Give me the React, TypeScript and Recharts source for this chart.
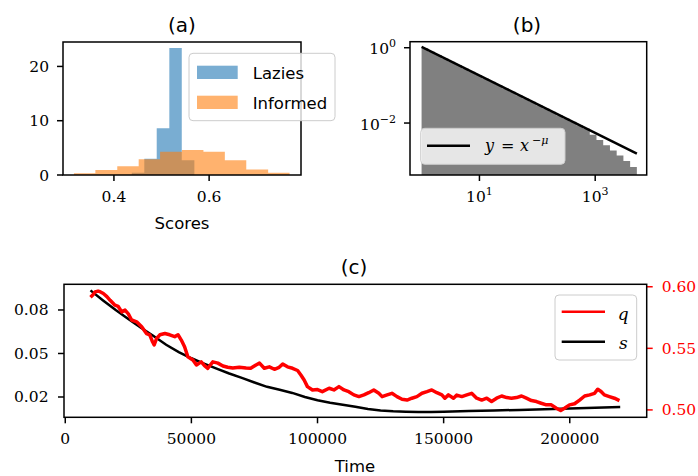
import React from 'react';
import { ComposedChart, Area, Line, XAxis, YAxis } from 'recharts';

const SERIF = '"DejaVu Serif", serif';
const SANS = '"DejaVu Sans", sans-serif';

// ---------- (a) score histograms (density) ----------
const informedEdges = [0.316, 0.361, 0.407, 0.452, 0.497, 0.543, 0.588, 0.633, 0.678, 0.724, 0.769];
const informedDensity = [0.3, 0.9, 1.6, 2.9, 4.3, 4.6, 4.3, 2.7, 1.0, 0.4];
const laziesEdges = [0.4375, 0.4638, 0.4899, 0.5164, 0.5425, 0.569];
const laziesDensity = [0.4, 3.0, 8.6, 23.4, 2.7];
const scoreTicks = [0.4, 0.6];
const densityTicks = [0, 10, 20];

// ---------- (b) log-binned distribution ----------
const degreeEdges = [1, 1.307, 1.708, 2.232, 2.917, 3.813, 4.983, 6.512, 8.511, 11.12, 14.54, 19.0, 24.83, 32.45,
  42.41, 55.43, 72.44, 94.68, 123.7, 161.7, 211.3, 276.2, 361.0, 471.8, 616.6, 805.9, 1053, 1376, 1799, 2351,
  3073, 4016, 5248];
const degreeFreq = [0.961, 0.783, 0.638, 0.521, 0.425, 0.346, 0.282, 0.23, 0.1875, 0.153, 0.1247, 0.1016, 0.0828,
  0.0675, 0.0551, 0.0449, 0.0366, 0.0298, 0.0243, 0.0198, 0.0162, 0.0132, 0.01074, 0.00877, 0.00714, 0.0049,
  0.00355, 0.00257, 0.00186, 0.00138, 0.00098, 0.00068];
const powerLawX = [1, 5248];
const powerLawY = [1.06, 0.00155];
const logXTicks = [10, 1000];
const logYTicks = [1, 0.01];

// ---------- (c) time series ----------
const sTime = [10000, 15000, 20000, 25000, 30000, 35000, 40000, 45000, 50000, 55000, 60000, 65000, 70000, 75000,
  80000, 85000, 90000, 95000, 100000, 105000, 110000, 115000, 120000, 125000, 130000, 135000, 140000, 145000,
  150000, 160000, 170000, 180000, 190000, 200000, 210000, 220000];
const sValue = [0.0935, 0.0866, 0.08, 0.0738, 0.0678, 0.062, 0.056, 0.051, 0.0467, 0.043, 0.0395, 0.0362, 0.0332,
  0.03, 0.027, 0.025, 0.0228, 0.02, 0.0177, 0.016, 0.0146, 0.0132, 0.0118, 0.0107, 0.0101, 0.0098, 0.0096, 0.0096,
  0.0098, 0.0103, 0.0107, 0.0111, 0.0116, 0.0121, 0.0126, 0.0131];
const qTime = [10000, 11000, 11800, 13000, 13800, 15100, 16500, 17800, 19700, 21000, 22400, 23700, 25000, 26300,
  28300, 30300, 32200, 33500, 34600, 35250, 36200, 37500, 39500, 41400, 43400, 44700, 46000, 47300, 48600, 50600,
  52000, 53900, 55200, 56500, 58500, 60500, 62500, 64400, 66400, 69000, 71700, 73500, 75600, 77000, 78900, 80900,
  82900, 84800, 86200, 88100, 90100, 92100, 93400, 94700, 96000, 98000, 100000, 101900, 104600, 106500, 108500,
  110500, 112400, 114400, 116400, 118400, 120300, 122300, 124300, 125600, 127600, 129500, 131500, 133500, 135500,
  137400, 139400, 141400, 143400, 145300, 147300, 149300, 150500, 151900, 153900, 155200, 157200, 159200, 161100,
  163100, 165100, 167100, 169000, 171000, 173000, 175000, 176900, 178900, 180900, 182800, 184800, 186800, 188700,
  190700, 192700, 194700, 196400, 197900, 199900, 201900, 203900, 205900, 207900, 209800, 211100, 212400, 213700,
  215700, 217700, 219700];
const qValue = [0.5915, 0.5935, 0.5958, 0.5965, 0.596, 0.5945, 0.592, 0.589, 0.585, 0.584, 0.5796, 0.581, 0.578,
  0.573, 0.5715, 0.5675, 0.562, 0.561, 0.5553, 0.5527, 0.558, 0.561, 0.562, 0.561, 0.5595, 0.561, 0.5567, 0.5513,
  0.5432, 0.5405, 0.5365, 0.539, 0.536, 0.5338, 0.539, 0.538, 0.5357, 0.5346, 0.534, 0.5346, 0.534, 0.5338, 0.5365,
  0.538, 0.5338, 0.535, 0.533, 0.5346, 0.5373, 0.535, 0.5338, 0.532, 0.5284, 0.5243, 0.5189, 0.5162, 0.5165,
  0.5148, 0.5176, 0.5162, 0.5189, 0.5162, 0.5148, 0.5122, 0.5108, 0.5122, 0.514, 0.5162, 0.5135, 0.5108, 0.5122,
  0.5135, 0.5108, 0.5087, 0.508, 0.5095, 0.5108, 0.5135, 0.5148, 0.5162, 0.514, 0.5122, 0.5095, 0.5122, 0.5095,
  0.512, 0.5108, 0.5122, 0.5135, 0.5095, 0.508, 0.5095, 0.5068, 0.5095, 0.5113, 0.51, 0.5095, 0.51, 0.5113, 0.5095,
  0.5076, 0.5068, 0.5054, 0.5041, 0.5041, 0.5014, 0.4995, 0.5014, 0.5041, 0.505, 0.508, 0.5113, 0.5122, 0.5135,
  0.5168, 0.515, 0.5122, 0.5108, 0.5095, 0.5076];
const timeTicks = [0, 50000, 100000, 150000, 200000];
const sTicks = [0.02, 0.05, 0.08];
const qTicks = [0.5, 0.55, 0.6];

// ---------- tables built from the arrays ----------
function stepRows(edges: number[], vals: number[], key: string) {
  return edges.map((x, i) => ({ x, [key]: vals[Math.min(i, vals.length - 1)] }));
}
function pointRows(xs: number[], ys: number[], key: string) {
  return xs.map((x, i) => ({ x, [key]: ys[i] }));
}
const byX = (a: any, b: any) => a.x - b.x;
const dataA = [...stepRows(laziesEdges, laziesDensity, 'lazies'), ...stepRows(informedEdges, informedDensity, 'informed')].sort(byX);
const dataB = [...stepRows(degreeEdges, degreeFreq, 'freq'), ...pointRows(powerLawX, powerLawY, 'fit')].sort(byX);
const dataC = [...pointRows(sTime, sValue, 's'), ...pointRows(qTime, qValue, 'q')].sort(byX);

const tickStyle = { fill: '#000', fontSize: 15.5, fontFamily: SERIF };
const tickLine = { stroke: '#000', strokeWidth: 1.5 };
const redTickLine = { stroke: '#ff0000', strokeWidth: 1.5 };

const expLabel = (v: number) => {
  const e = Math.round(Math.log10(v));
  return e < 0 ? '\u2212' + Math.abs(e) : String(e);
};
const PowTickX = (props: any) => {
  const { x, y, payload } = props;
  return (
    <text x={x} y={y} dy="0.71em" textAnchor="middle" fontFamily={SERIF} fontSize={15.5} fill="#000">
      10<tspan dy={-7} fontSize={11}>{expLabel(payload.value)}</tspan>
    </text>
  );
};
const PowTickY = (props: any) => {
  const { x, y, payload } = props;
  return (
    <text x={x} y={y + 1} dy="0.36em" textAnchor="end" fontFamily={SERIF} fontSize={15.5} fill="#000">
      10<tspan dy={-7} fontSize={11}>{expLabel(payload.value)}</tspan>
    </text>
  );
};

const abs = (l: number, t: number): React.CSSProperties => ({ position: 'absolute', left: l, top: t });

export default function App() {
  return (
    <div style={{ position: 'absolute', left: 0, top: 0, width: 698, height: 476, background: '#fff', overflow: 'hidden' }}>
      <div style={abs(0, 0)}>
        <ComposedChart width={349} height={240} data={dataA} margin={{ top: 42, right: 48, bottom: 25, left: 13 }}>
          <XAxis dataKey="x" type="number" domain={[0.293, 0.793]} allowDataOverflow ticks={scoreTicks} interval={0}
            tickFormatter={(v: number) => v.toFixed(1)} axisLine={false} tickLine={tickLine} tickSize={6}
            tickMargin={10} tick={tickStyle} height={40} />
          <YAxis type="number" domain={[0, 24.5]} allowDataOverflow ticks={densityTicks} interval={0}
            axisLine={false} tickLine={tickLine} tickSize={6} tickMargin={8} tick={tickStyle} width={50} />
          <Area dataKey="lazies" type="stepAfter" fill="#1f77b4" fillOpacity={0.6} stroke="none" connectNulls
            isAnimationActive={false} dot={false} activeDot={false} />
          <Area dataKey="informed" type="stepAfter" fill="#ff7f0e" fillOpacity={0.6} stroke="none" connectNulls
            isAnimationActive={false} dot={false} activeDot={false} />
        </ComposedChart>
      </div>
      <div style={abs(350, 0)}>
        <ComposedChart width={348} height={240} data={dataB} margin={{ top: 41.7, right: 51.3, bottom: 25, left: 10 }}>
          <XAxis dataKey="x" type="number" scale="log" domain={[0.631, 7762]} allowDataOverflow ticks={logXTicks}
            interval={0} axisLine={false} tickLine={tickLine} tickSize={6} tickMargin={10} tick={<PowTickX />}
            height={40} />
          <YAxis type="number" scale="log" domain={[0.000417, 1.445]} allowDataOverflow ticks={logYTicks}
            interval={0} axisLine={false} tickLine={tickLine} tickSize={6} tickMargin={8} tick={<PowTickY />}
            width={50} />
          <Area dataKey="freq" type="stepAfter" fill="#808080" fillOpacity={1} stroke="none" connectNulls
            baseValue={0.000417} isAnimationActive={false} dot={false} activeDot={false} />
          <Line dataKey="fit" type="linear" stroke="#000" strokeWidth={2.5} connectNulls dot={false}
            activeDot={false} isAnimationActive={false} />
        </ComposedChart>
      </div>
      <div style={abs(0, 250)}>
        <ComposedChart width={698} height={226} data={dataC} margin={{ top: 34.3, right: 6.3, bottom: 18.7, left: 14 }}>
          <XAxis dataKey="x" type="number" domain={[-500, 230500]} allowDataOverflow ticks={timeTicks} interval={0}
            axisLine={false} tickLine={tickLine} tickSize={6} tickMargin={10} tick={tickStyle} height={40} />
          <YAxis yAxisId="s" type="number" domain={[0.006, 0.0977]} allowDataOverflow ticks={sTicks} interval={0}
            tickFormatter={(v: number) => v.toFixed(2)} axisLine={false} tickLine={tickLine} tickSize={6}
            tickMargin={9.5} tick={tickStyle} width={50} />
          <YAxis yAxisId="q" orientation="right" type="number" domain={[0.494, 0.602]} allowDataOverflow
            ticks={qTicks} interval={0} tickFormatter={(v: number) => v.toFixed(2)} axisLine={false}
            tickLine={redTickLine} tickSize={6} tickMargin={9} tick={{ ...tickStyle, fill: '#ff0000' }} width={45} />
          <Line yAxisId="s" dataKey="s" type="linear" stroke="#000" strokeWidth={2.5} connectNulls dot={false}
            activeDot={false} isAnimationActive={false} />
          <Line yAxisId="q" dataKey="q" type="linear" stroke="#ff0000" strokeWidth={3.5} strokeLinejoin="round"
            connectNulls dot={false} activeDot={false} isAnimationActive={false} />
        </ComposedChart>
      </div>
      <svg width={698} height={476} style={{ position: 'absolute', left: 0, top: 0, pointerEvents: 'none' }}>
        {/* frames */}
        <rect x={63} y={42} width={238} height={133} fill="none" stroke="#000" strokeWidth={1.5} />
        <rect x={410} y={41.7} width={236.7} height={133.3} fill="none" stroke="#000" strokeWidth={1.5} />
        <rect x={64} y={284.3} width={582.7} height={133} fill="none" stroke="#000" strokeWidth={1.5} />
        {/* titles and axis labels */}
        <text x={182} y={32.4} textAnchor="middle" fontFamily={SANS} fontSize={20} fill="#000">(a)</text>
        <text x={527} y={32.4} textAnchor="middle" fontFamily={SANS} fontSize={20} fill="#000">(b)</text>
        <text x={354} y={274} textAnchor="middle" fontFamily={SANS} fontSize={20} fill="#000">(c)</text>
        <text x={182} y={228.7} textAnchor="middle" fontFamily={SANS} fontSize={16.5} fill="#000">Scores</text>
        <text x={355} y={471.7} textAnchor="middle" fontFamily={SANS} fontSize={16.5} fill="#000">Time</text>
        {/* legend (a) */}
        <rect x={189} y={53.3} width={146} height={67.4} rx={4} fill="#fff" fillOpacity={0.8} stroke="#cccccc" strokeWidth={1} />
        <rect x={197} y={65.7} width={40.7} height={13.3} fill="#1f77b4" fillOpacity={0.6} />
        <rect x={197} y={95.7} width={40.7} height={13.3} fill="#ff7f0e" fillOpacity={0.6} />
        <text x={252.7} y={79.3} fontFamily={SANS} fontSize={16.5} fill="#000">Lazies</text>
        <text x={252.7} y={109} fontFamily={SANS} fontSize={16.5} fill="#000">Informed</text>
        {/* legend (b) */}
        <rect x={420.7} y={128.3} width={144.3} height={36} rx={4} fill="#fff" fillOpacity={0.8} stroke="#cccccc" strokeWidth={1} />
        <line x1={427} y1={145.7} x2={470} y2={145.7} stroke="#000" strokeWidth={2.5} />
        <text y={151} fontFamily={SERIF} fontSize={16} fill="#000">
          <tspan x={485} fontStyle="italic">y</tspan>
          <tspan x={501}>=</tspan>
          <tspan x={520} fontStyle="italic">x</tspan>
          <tspan x={532} dy={-7} fontSize={11} fontStyle="italic">{'\u2212\u03bc'}</tspan>
        </text>
        {/* legend (c) */}
        <rect x={555} y={295} width={81.7} height={65} rx={4} fill="#fff" fillOpacity={0.8} stroke="#cccccc" strokeWidth={1} />
        <line x1={561.7} y1={311.7} x2={605} y2={311.7} stroke="#ff0000" strokeWidth={2.5} />
        <line x1={561.7} y1={341.7} x2={605} y2={341.7} stroke="#000" strokeWidth={2.5} />
        <text x={623.3} y={319.5} textAnchor="middle" fontFamily={SERIF} fontStyle="italic" fontSize={17} fill="#000">q</text>
        <text x={623.3} y={349.3} textAnchor="middle" fontFamily={SERIF} fontStyle="italic" fontSize={17} fill="#000">s</text>
      </svg>
    </div>
  );
}
